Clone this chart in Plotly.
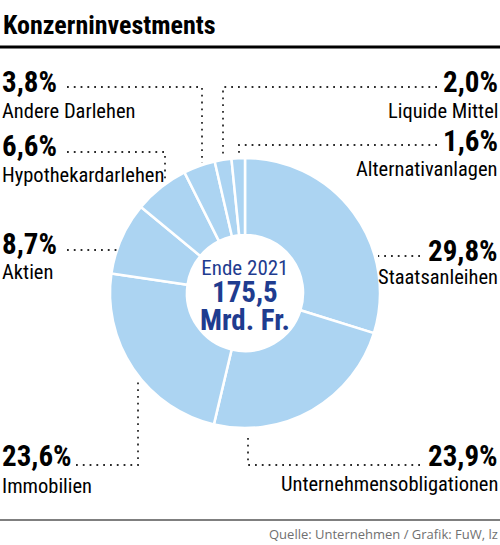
import plotly.graph_objects as go

# ---- data ----
categories = ["Staatsanleihen", "Unternehmensobligationen", "Immobilien", "Aktien",
              "Hypothekardarlehen", "Andere Darlehen", "Liquide Mittel", "Alternativanlagen"]
shares = [29.8, 23.9, 23.6, 8.7, 6.6, 3.8, 2.0, 1.6]
title_text = "Konzerninvestments"
center_lines = ["Ende 2021", "175,5", "Mrd. Fr."]
source_text = "Quelle: Unternehmen / Grafik: FuW, lz"

W, H = 500, 545
FONT = "Roboto Condensed, Liberation Sans Narrow, sans-serif"
BLUE = "#acd4f2"
DARKBLUE = "#1f3c8f"
NUM_SIZE = 29
NAME_SIZE = 20.5
DESC = 0.244  # descent ratio used to place baselines
SHIFT = 1.5


def px(x):
    return x / W


def py(y):
    return 1 - y / H


def bottom_for_baseline(baseline, size):
    return py(baseline + SHIFT + 1 + DESC * size)


def fmt(v):
    return f"{v:.1f}".replace(".", ",") + "%"


# layout for labels: (x, value baseline, name baseline, align)
label_layout = {
    "Staatsanleihen": (500, 260, 283, "right"),
    "Unternehmensobligationen": (500, 465, 490, "right"),
    "Immobilien": (0, 465, 492, "left"),
    "Aktien": (0, 253, 278, "left"),
    "Hypothekardarlehen": (0, 155, 181, "left"),
    "Andere Darlehen": (0, 91, 117, "left"),
    "Liquide Mittel": (500, 91, 117, "right"),
    "Alternativanlagen": (500, 150, 175, "right"),
}
# leader paths (pixel polylines)
leaders = {
    "Staatsanleihen": [(420, 256), (378, 256)],
    "Unternehmensobligationen": [(420, 465), (248, 465), (248, 433)],
    "Immobilien": [(76, 465), (138, 465), (138, 378)],
    "Aktien": [(67, 250), (117, 250)],
    "Hypothekardarlehen": [(67, 152), (165, 152), (165, 181)],
    "Andere Darlehen": [(67, 87), (202, 87), (202, 163)],
    "Liquide Mittel": [(437, 87), (223, 87), (223, 154)],
    "Alternativanlagen": [(437, 145), (239, 145), (239, 156)],
}

fig = go.Figure()
fig.add_trace(go.Pie(
    labels=categories, values=shares, sort=False, direction="clockwise", rotation=0,
    hole=0.43, textinfo="none", hoverinfo="label+percent",
    marker=dict(colors=[BLUE] * len(categories), line=dict(color="white", width=2.5)),
    domain=dict(x=[px(110), px(380)], y=[py(428), py(158)]),
    showlegend=False,
))

ann = []
ann.append(dict(x=px(1), y=bottom_for_baseline(33, 26), xref="paper", yref="paper",
                xanchor="left", yanchor="bottom",
                text=f"<b>{title_text}</b>", showarrow=False,
                font=dict(family=FONT, size=26, color="black")))
for cat, v in zip(categories, shares):
    x, yb_num, yb_name, al = label_layout[cat]
    ax = "left" if al == "left" else "right"
    ann.append(dict(x=px(x), y=bottom_for_baseline(yb_num, NUM_SIZE), xref="paper", yref="paper",
                    xanchor=ax, yanchor="bottom", text=f"<b>{fmt(v)}</b>", showarrow=False, align=al,
                    font=dict(family=FONT, size=NUM_SIZE, color="black")))
    ann.append(dict(x=px(x), y=bottom_for_baseline(yb_name, NAME_SIZE), xref="paper", yref="paper",
                    xanchor=ax, yanchor="bottom", text=cat, showarrow=False, align=al,
                    font=dict(family=FONT, size=NAME_SIZE, color="black")))

center_text = (f"{center_lines[0]}<br>"
               f"<b><span style='font-size:29px'>{center_lines[1]}</span></b><br>"
               f"<b><span style='font-size:29px'>{center_lines[2]}</span></b>")
ann.append(dict(x=px(245), y=bottom_for_baseline(328, 29), xref="paper", yref="paper",
                xanchor="center", yanchor="bottom", text=center_text, showarrow=False, borderpad=0,
                align="center", font=dict(family=FONT, size=21, color=DARKBLUE)))
ann.append(dict(x=px(500), y=bottom_for_baseline(539, 13), xref="paper", yref="paper",
                xanchor="right", yanchor="bottom", text=source_text, showarrow=False,
                font=dict(family="Open Sans, sans-serif", size=13, color="#707070")))

shapes = []
shapes.append(dict(type="line", xref="paper", yref="paper", x0=0, x1=1, y0=py(47), y1=py(47),
                   line=dict(color="black", width=3)))
shapes.append(dict(type="line", xref="paper", yref="paper", x0=0, x1=1, y0=py(520), y1=py(520),
                   line=dict(color="#555555", width=1.5)))
for cat, pts in leaders.items():
    path = "M " + " L ".join(f"{px(a)},{py(b)}" for a, b in pts)
    shapes.append(dict(type="path", xref="paper", yref="paper", path=path,
                       line=dict(color="#2a2a2a", width=1.8, dash="1.8px,5px")))

fig.update_layout(
    width=W, height=H, margin=dict(l=0, r=0, t=0, b=0),
    paper_bgcolor="white", plot_bgcolor="white",
    annotations=ann, shapes=shapes,
)
fig.write_html("out.html", config={"displayModeBar": False},
               post_script="document.body.style.margin='0px';")
